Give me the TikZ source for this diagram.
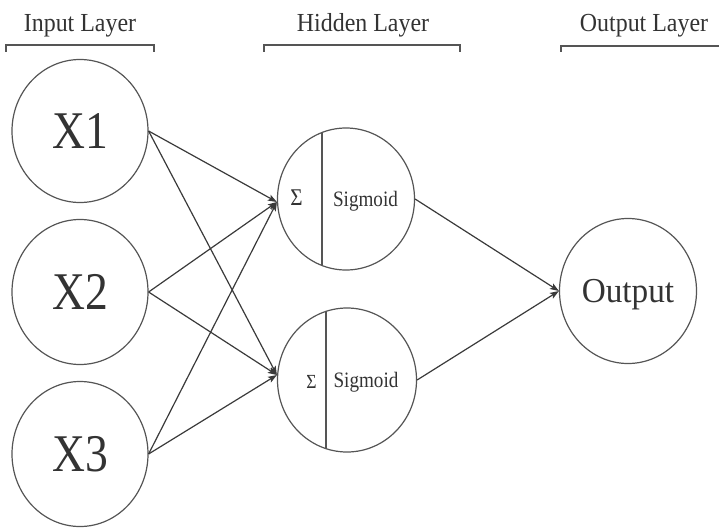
\documentclass[tikz,border=0pt]{standalone}
\usepackage{fontspec}
\setmainfont{Liberation Serif}
\usetikzlibrary{shapes.geometric,arrows.meta,calc}

\definecolor{linec}{HTML}{3A3A3A}
\definecolor{ringc}{HTML}{555555}
\definecolor{textc}{HTML}{333333}

% horizontally narrowed text
\newcommand{\narrowtxt}[2]{\scalebox{#1}[1]{#2}}

\tikzset{
  neuron/.style={shape=ellipse, draw=ringc, line width=1.2pt, fill=white,
    minimum width=137pt, minimum height=143pt, inner sep=0pt,
    text depth=0pt, text=textc},
  hiddenunit/.style={neuron,
    path picture={\draw[ringc, line width=1.3pt]
      ([xshift=#1]path picture bounding box.north) --
      ([xshift=#1]path picture bounding box.south);}},
  layertitle/.style={anchor=base, text=textc, inner sep=0pt,
    font=\fontsize{26}{26}\selectfont},
  unitlabel/.style={anchor=base, text=textc, inner sep=0pt},
  bracketline/.style={draw=ringc, line width=1.4pt},
  wire/.style={draw=linec, line width=1.2pt,
    -{Stealth[length=9pt,width=6.5pt,inset=2pt]}}
}

\begin{document}
\begin{tikzpicture}[x=1pt,y=-1pt]
  \useasboundingbox (0,0) rectangle (719,527);

  % layer titles with brackets
  \node[layertitle] (tin)  at (80,32)  {\narrowtxt{0.92}{Input Layer}};
  \node[layertitle] (thid) at (363,32) {\narrowtxt{0.92}{Hidden Layer}};
  \node[layertitle] (tout) at (644,32) {\narrowtxt{0.92}{Output Layer}};
  \draw[bracketline] (6,52) -- (6,45) -- (154,45) -- (154,52);
  \draw[bracketline] (264,52) -- (264,45) -- (460,45) -- (460,52);
  \draw[bracketline] (561,52) -- (561,46) -- (719,46);

  % input units
  \node[neuron, minimum width=136pt, minimum height=143pt,
        font=\fontsize{53}{53}\selectfont] (x1) at (80,131) {\narrowtxt{0.86}{X1}};
  \node[neuron, minimum width=136pt, minimum height=145pt,
        font=\fontsize{53}{53}\selectfont] (x2) at (80,292) {\narrowtxt{0.86}{X2}};
  \node[neuron, minimum width=136pt, minimum height=145pt,
        font=\fontsize{53}{53}\selectfont] (x3) at (80,454) {\narrowtxt{0.86}{X3}};

  % hidden units: summation | activation
  \node[hiddenunit=-24pt, minimum width=137pt, minimum height=142pt] (h1) at (346,199) {};
  \node[hiddenunit=-21pt, minimum width=139pt, minimum height=144pt] (h2) at (347,380) {};
  \node[unitlabel, font=\fontsize{24}{24}\selectfont] (s1) at (296.5,205) {\narrowtxt{0.88}{Σ}};
  \node[unitlabel, font=\fontsize{22}{22}\selectfont] (g1) at (365.5,206) {\narrowtxt{0.87}{Sigmoid}};
  \node[unitlabel, font=\fontsize{20}{20}\selectfont] (s2) at (311.5,388) {\narrowtxt{0.88}{Σ}};
  \node[unitlabel, font=\fontsize{22}{22}\selectfont] (g2) at (366,387) {\narrowtxt{0.87}{Sigmoid}};

  % output unit
  \node[neuron, minimum width=137pt, minimum height=145pt,
        font=\fontsize{35}{35}\selectfont] (out) at (628,291) {\narrowtxt{0.95}{Output}};

  % connections
  \foreach \src in {x1,x2,x3}{
    \draw[wire] (\src.east) -- ([yshift=-3pt]h1.west);
    \draw[wire] (\src.east) -- ([yshift=5pt]h2.west);
  }
  \draw[wire] (h1.east) -- (out.west);
  \draw[wire] (h2.east) -- (out.west);
\end{tikzpicture}
\end{document}
